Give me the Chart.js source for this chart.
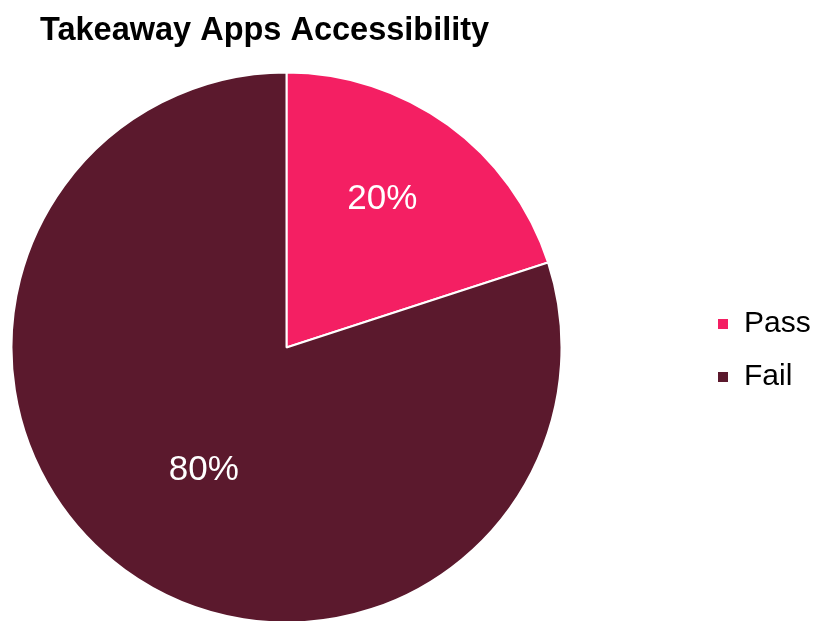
<!DOCTYPE html>
<html>
<head>
<meta charset="utf-8">
<title>Takeaway Apps Accessibility</title>
<script src="https://cdn.jsdelivr.net/npm/chart.js@4/dist/chart.umd.min.js"></script>
<style>
  html, body { margin: 0; padding: 0; background: #ffffff; }
  #wrap { width: 818px; height: 621px; position: relative; }
</style>
</head>
<body>
<div id="wrap"><canvas id="myChart"></canvas></div>
<script>
// =======================================
// DATA
// =======================================

const categories = ['Pass', 'Fail'];
const shares = [20, 80];
const sliceColors = ['#F41F63', '#5B192D'];

// where each percentage label sits: share of the radius, share of the slice sweep
const labelRadius = [0.65, 0.53];
const labelSweep = [0.45, 0.495];

const FONT = '"Liberation Sans", Arial, Helvetica, sans-serif';
const LEGEND_LEFT = 694;
const LEGEND_DROP = 77;

// =======================================
// PERCENT LABELS INSIDE THE SLICES
// =======================================

const sliceLabels = {
    id: 'sliceLabels',
    afterDatasetsDraw(chart) {
        const ctx = chart.ctx;
        const meta = chart.getDatasetMeta(0);
        const size = 35;
        ctx.save();
        ctx.fillStyle = '#ffffff';
        ctx.font = size + 'px ' + FONT;
        ctx.textAlign = 'center';
        ctx.textBaseline = 'alphabetic';
        meta.data.forEach((arc, i) => {
            const p = arc.getProps(['x', 'y', 'startAngle', 'endAngle', 'outerRadius'], true);
            const a = p.startAngle + (p.endAngle - p.startAngle) * labelSweep[i];
            const r = p.outerRadius * labelRadius[i];
            // digits centred on the point: baseline sits ~0.36em below it
            ctx.fillText(shares[i] + '%', p.x + Math.cos(a) * r, p.y + Math.sin(a) * r + size * 0.36);
        });
        ctx.restore();
    }
};

// =======================================
// LEGEND COLUMN ON THE RIGHT
// =======================================

const legendColumn = {
    id: 'legendColumn',
    afterLayout(chart) {
        const lg = chart.legend;
        lg.left = LEGEND_LEFT;
        lg.right = LEGEND_LEFT + lg.width;
        lg.top += LEGEND_DROP;
        lg.bottom += LEGEND_DROP;
    }
};

// =======================================
// CHART
// =======================================

const ctx = document.getElementById('myChart').getContext('2d');

const myChart = new Chart(ctx, {
    type: 'pie',
    data: {
        labels: categories,
        datasets: [{
            data: shares,
            backgroundColor: sliceColors,
            borderColor: '#ffffff',
            borderWidth: 2
        }]
    },
    options: {
        responsive: true,
        maintainAspectRatio: false,
        animation: false,
        radius: 275,
        layout: {
            padding: { left: 40, right: 285, top: 0, bottom: 0 }
        },
        plugins: {
            title: {
                display: true,
                text: 'Takeaway Apps Accessibility',
                align: 'start',
                color: '#000000',
                font: { family: FONT, size: 32.5, weight: 'bold' },
                padding: { top: 11.5, bottom: 23.5 }
            },
            legend: {
                position: 'chartArea',
                labels: {
                    color: '#000000',
                    font: { family: FONT, size: 30 },
                    boxWidth: 12,
                    boxHeight: 12,
                    padding: 23
                }
            },
            tooltip: { enabled: false }
        }
    },
    plugins: [sliceLabels, legendColumn]
});
</script>
</body>
</html>
